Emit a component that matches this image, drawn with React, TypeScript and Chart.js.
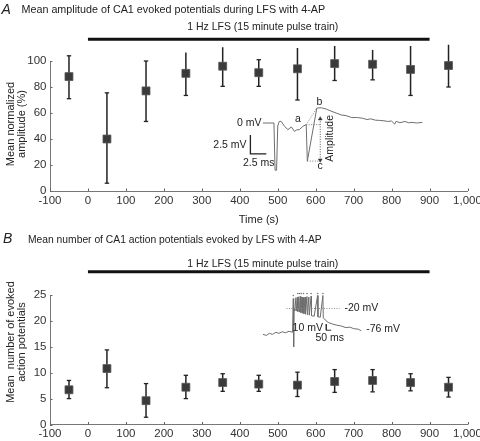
import React, { useEffect, useRef } from "react";
import { Chart, registerables } from "chart.js";
Chart.register(...registerables);

const FONT = '"Liberation Sans", Arial, Helvetica, sans-serif';
const TEXT = "#222";
const TRACE = "#6e6e6e";

// ---- shared x axis ----
const times = [-50, 50, 153, 258, 355, 450, 552, 650, 750, 850, 950];
const xMin = -100;
const xMax = 1000;
const xStep = 100;
const lfsStart = 0;
const lfsEnd = 900;
const lfsLabel = "1 Hz LFS (15 minute pulse train)";

// ---- panel A ----
const letterA = "A";
const titleA = "Mean amplitude of CA1 evoked potentials during LFS with 4-AP";
const yTitleA = ["Mean normalized", "amplitude (%)"];
const xTitleA = "Time (s)";
const yMaxA = 100;
const yStepA = 20;
const meanA = [88, 40, 77, 90.5, 96, 91, 94, 98, 97.5, 93.5, 96.5];
const lowA = [71, 6, 53.5, 73.5, 80.5, 80.5, 70, 85, 85.5, 73.5, 80];
const highA = [104, 75.5, 100, 106.5, 110.5, 101, 110, 111.5, 108.5, 111.5, 112.5];

// inset trace A (drawn in the chart's own units)
const traceAX = [461, 490, 493, 497, 500, 504, 509, 518, 527, 536, 544, 550, 557, 566, 575, 578, 603, 615, 628, 640, 654, 667, 680, 695, 710, 723, 735, 745, 757, 768, 780, 790, 800, 808, 812, 822, 835, 845, 854, 866, 881];
const traceAY = [52.3, 52.3, 16, 16, 50, 53.5, 53.6, 49.7, 47.2, 49.3, 45.9, 47, 47.2, 49.7, 51, 23, 63.8, 64, 63, 61.5, 60, 58.5, 58, 56.5, 56.5, 56, 55, 55.5, 54.5, 54.3, 54, 53.5, 53.8, 51.5, 53.6, 52.5, 53.5, 52.5, 52.8, 52.3, 52.8];
const dotAB = [[575, 51], [603, 63.8]];
const dotA = [[575, 51], [612, 51]];
const dotC = [[578, 23], [612, 23]];
const ampLine = [[612, 55.5], [612, 23.8]];
const scaleBarA = [[428, 43], [428, 28.5], [470, 28.5]];
const labelsA = [
  { text: "0 mV", x: 457, y: 52, align: "right" },
  { text: "a", x: 553, y: 55, align: "center" },
  { text: "b", x: 610, y: 68, align: "center" },
  { text: "c", x: 612, y: 19, align: "center" },
  { text: "2.5 mV", x: 418, y: 35, align: "right" },
  { text: "2.5 ms", x: 450, y: 21.5, align: "center" },
  { text: "Amplitude", x: 638, y: 40.5, align: "center", rotate: true },
];

// ---- panel B ----
const letterB = "B";
const titleB = "Mean number of CA1 action potentials evoked by LFS with 4-AP";
const yTitleB = ["Mean  number of evoked", "action potentials"];
const yMaxB = 25;
const yStepB = 5;
const meanB = [6.7, 10.8, 4.6, 7.2, 8.1, 7.8, 7.6, 8.3, 8.5, 8.1, 7.2];
const lowB = [5.0, 7.1, 1.4, 5.0, 6.4, 6.4, 5.4, 6.2, 6.3, 6.5, 5.3];
const highB = [8.5, 14.4, 7.9, 9.5, 9.8, 9.5, 10.1, 10.6, 10.6, 9.8, 9.1];

const traceBX = [461, 470, 478, 486, 495, 503, 512, 520, 530, 539, 541, 542, 543, 545, 548, 549, 552, 553, 556, 557, 560, 561, 564, 565, 568, 569, 572, 573, 577, 578, 582, 583, 588, 589, 596, 605, 606, 612, 619, 620, 625, 633, 644, 654, 668, 680, 690, 700, 712, 720];
const traceBY = [17.4, 17.2, 17.6, 17.4, 17.8, 17.6, 17.9, 17.7, 18.0, 17.8, 24.3, 15.0, 22.3, 22, 24.5, 21.9, 24.6, 21.8, 24.7, 21.7, 24.7, 21.6, 24.6, 21.5, 24.5, 21.4, 24.6, 21.3, 24.7, 21.2, 24.6, 21.1, 24.8, 21.0, 20.9, 24.9, 20.8, 20.7, 24.9, 20.6, 20.2, 19.7, 19.4, 19.2, 19.0, 18.7, 18.8, 18.5, 18.4, 18.1];
const spikeDotX = [541, 553, 557, 562, 568, 577, 588, 605, 619];
const spikeDotY = [24.9, 25.3, 25.3, 25.3, 25.3, 25.3, 25.3, 25.3, 25.3];
const dotB = [[523, 22.4], [663, 22.4]];
const scaleBarB = [[628, 19.4], [628, 18.2], [641, 18.2]];
const labelsB = [
  { text: "-20 mV", x: 676, y: 22.4, align: "left" },
  { text: "-76 mV", x: 733, y: 18.4, align: "left" },
  { text: "10 mV", x: 619, y: 18.6, align: "right" },
  { text: "50 ms", x: 637, y: 16.7, align: "center" },
];

type Pt = { x: number; y: number | null };
const pts = (arr: number[][]): Pt[] => arr.map(([x, y]) => ({ x, y }));
const zip = (xs: number[], ys: number[]): Pt[] => xs.map((x, i) => ({ x, y: ys[i] }));
const errSegs = (ts: number[], lo: number[], hi: number[]): Pt[] =>
  ts.flatMap((t, i) => [{ x: t, y: lo[i] }, { x: t, y: hi[i] }, { x: t, y: null }]);

interface Panel {
  height: number;
  chartTop: number;
  chartBottom: number;
  letter: string;
  letterX: number;
  letterY: number;
  title: string;
  titleSize: number;
  titleX: number;
  titleY: number;
  lfsTextY: number;
  lfsBarY: number;
  yTitle: string[];
  yTitleY: number;
  yTitleX: number[];
  xTitle: string | null;
  yMax: number;
  yStep: number;
  mean: number[];
  low: number[];
  high: number[];
  insetDatasets: any[];
  labels: any[];
}

function buildConfig(p: Panel): any {
  const tickFont = { family: FONT, size: 11.5 };
  const decor = {
    id: "decor",
    afterDraw(chart: any) {
      const ctx = chart.ctx;
      const xs = chart.scales.x;
      const ys = chart.scales.y;
      const area = chart.chartArea;
      ctx.save();
      ctx.fillStyle = TEXT;
      // panel letter
      ctx.font = `italic 14px ${FONT}`;
      ctx.textAlign = "left";
      ctx.textBaseline = "alphabetic";
      ctx.fillText(p.letter, p.letterX, p.letterY);
      // title
      ctx.font = `${p.titleSize}px ${FONT}`;
      ctx.fillText(p.title, p.titleX, p.titleY);
      // LFS bar and label
      const x0 = xs.getPixelForValue(lfsStart);
      const x1 = xs.getPixelForValue(lfsEnd);
      ctx.font = `10.5px ${FONT}`;
      ctx.textAlign = "center";
      ctx.fillText(lfsLabel, (x0 + x1) / 2 + 4, p.lfsTextY);
      ctx.strokeStyle = "#111";
      ctx.lineWidth = 3;
      ctx.beginPath();
      ctx.moveTo(x0, p.lfsBarY);
      ctx.lineTo(x1, p.lfsBarY);
      ctx.stroke();
      // y axis title (two lines, rotated)
      ctx.font = `11px ${FONT}`;
      p.yTitle.forEach((line, i) => {
        ctx.save();
        ctx.translate(p.yTitleX[i], p.yTitleY);
        ctx.rotate(-Math.PI / 2);
        ctx.textAlign = "center";
        ctx.textBaseline = "alphabetic";
        ctx.fillText(line, 0, 0);
        ctx.restore();
      });
      // inward tick marks
      ctx.strokeStyle = "#666";
      ctx.lineWidth = 1;
      ctx.beginPath();
      xs.ticks.forEach((t: any) => {
        const px = Math.round(xs.getPixelForValue(t.value)) + 0.5;
        ctx.moveTo(px, area.bottom);
        ctx.lineTo(px, area.bottom - 2.5);
      });
      ys.ticks.forEach((t: any) => {
        const py = Math.round(ys.getPixelForValue(t.value)) + 0.5;
        ctx.moveTo(area.left, py);
        ctx.lineTo(area.left + 2.5, py);
      });
      ctx.stroke();
      // inset labels
      ctx.font = `10.5px ${FONT}`;
      ctx.fillStyle = TEXT;
      p.labels.forEach((l: any) => {
        const px = xs.getPixelForValue(l.x);
        const py = ys.getPixelForValue(l.y);
        ctx.save();
        ctx.translate(px, py);
        if (l.rotate) ctx.rotate(-Math.PI / 2);
        ctx.textAlign = l.align;
        ctx.textBaseline = "middle";
        ctx.fillText(l.text, 0, 0);
        ctx.restore();
      });
      ctx.restore();
    },
  };

  return {
    type: "scatter",
    data: {
      datasets: [
        {
          type: "scatter",
          data: zip(times, p.mean),
          pointStyle: "rect",
          pointRadius: 5.6,
          backgroundColor: "#3a3a3a",
          borderColor: "#555",
          borderWidth: 0.8,
          clip: false,
        },
        {
          type: "scatter",
          data: [...zip(times, p.low), ...zip(times, p.high)],
          pointStyle: "line",
          pointRadius: 2.2,
          borderColor: "#222",
          borderWidth: 1.3,
          clip: false,
        },
        {
          type: "line",
          data: errSegs(times, p.low, p.high),
          borderColor: "#222",
          borderWidth: 1.5,
          pointRadius: 0,
          spanGaps: false,
          clip: false,
        },
        ...p.insetDatasets,
      ],
    },
    options: {
      animation: false,
      responsive: false,
      events: [],
      layout: { padding: { left: 0, right: 12.5, top: p.chartTop, bottom: 0 } },
      plugins: { legend: { display: false }, tooltip: { enabled: false }, title: { display: false } },
      scales: {
        x: {
          type: "linear",
          min: xMin,
          max: xMax,
          ticks: {
            stepSize: xStep,
            font: tickFont,
            color: "#333",
            padding: 2.5,
            maxRotation: 0,
            autoSkip: false,
          },
          grid: { display: false, drawTicks: false, tickLength: 0 },
          border: { display: true, color: "#777", width: 1 },
          title: p.xTitle
            ? { display: true, text: p.xTitle, font: { family: FONT, size: 11 }, color: TEXT, padding: { top: 0, bottom: 3.9 } }
            : { display: false },
          afterFit(s: any) {
            s.height = p.height - p.chartBottom;
            s.paddingLeft = 0;
            s.paddingRight = 0;
          },
        },
        y: {
          type: "linear",
          min: 0,
          max: p.yMax,
          ticks: { stepSize: p.yStep, font: tickFont, color: "#333", padding: 3.5 },
          grid: { display: false, drawTicks: false, tickLength: 0 },
          border: { display: true, color: "#777", width: 1 },
          afterFit(s: any) {
            s.width = 50;
            s.paddingTop = 0;
            s.paddingBottom = 0;
          },
        },
      },
    },
    plugins: [decor],
  };
}

const lineDs = (data: Pt[], color: string, width: number, dash: number[] = []) => ({
  type: "line",
  data,
  borderColor: color,
  borderWidth: width,
  borderDash: dash,
  pointRadius: 0,
  clip: false,
  tension: 0,
});

const panelA: Panel = {
  height: 230,
  chartTop: 61,
  chartBottom: 191,
  letter: letterA,
  letterX: 1.5,
  letterY: 13.5,
  title: titleA,
  titleSize: 10.75,
  titleX: 21.5,
  titleY: 12.5,
  lfsTextY: 30,
  lfsBarY: 39.2,
  yTitle: yTitleA,
  yTitleY: 124,
  yTitleX: [14, 25],
  xTitle: xTitleA,
  yMax: yMaxA,
  yStep: yStepA,
  mean: meanA,
  low: lowA,
  high: highA,
  insetDatasets: [
    {
      type: "scatter",
      data: [{ x: ampLine[0][0], y: ampLine[0][1] }],
      pointStyle: "triangle",
      pointRadius: 2.2,
      backgroundColor: "#333",
      borderColor: "#333",
      borderWidth: 0.5,
      clip: false,
    },
    {
      type: "scatter",
      data: [{ x: ampLine[1][0], y: ampLine[1][1] }],
      pointStyle: "triangle",
      rotation: 180,
      pointRadius: 2.2,
      backgroundColor: "#333",
      borderColor: "#333",
      borderWidth: 0.5,
      clip: false,
    },
    lineDs(pts(ampLine), "#555", 1, [1, 1.5]),
    lineDs(pts(dotAB), "#777", 1, [1, 1.5]),
    lineDs(pts(dotA), "#777", 1, [1, 1.5]),
    lineDs(pts(dotC), "#777", 1, [1, 1.5]),
    lineDs(pts(scaleBarA), "#222", 1.3),
    lineDs(zip(traceAX, traceAY), TRACE, 1),
  ],
  labels: labelsA,
};

const panelB: Panel = {
  height: 219,
  chartTop: 73,
  chartBottom: 202.5,
  letter: letterB,
  letterX: 3,
  letterY: 21.3,
  title: titleB,
  titleSize: 10.3,
  titleX: 28,
  titleY: 20.5,
  lfsTextY: 44.5,
  lfsBarY: 49.7,
  yTitle: yTitleB,
  yTitleY: 120,
  yTitleX: [13.5, 25],
  xTitle: null,
  yMax: yMaxB,
  yStep: yStepB,
  mean: meanB,
  low: lowB,
  high: highB,
  insetDatasets: [
    {
      type: "scatter",
      data: zip(spikeDotX, spikeDotY),
      pointStyle: "circle",
      pointRadius: 0.8,
      backgroundColor: "#777",
      borderWidth: 0,
      clip: false,
    },
    lineDs(pts(dotB), "#888", 1, [1, 1.5]),
    lineDs(pts(scaleBarB), "#333", 1),
    lineDs(zip(traceBX, traceBY), TRACE, 1),
  ],
  labels: labelsB,
};

function PanelChart({ panel, top }: { panel: Panel; top: number }) {
  const ref = useRef<HTMLCanvasElement | null>(null);
  useEffect(() => {
    if (!ref.current) return;
    const chart = new Chart(ref.current, buildConfig(panel));
    return () => chart.destroy();
  }, [panel]);
  return (
    <canvas
      ref={ref}
      width={480}
      height={panel.height}
      style={{ position: "absolute", left: 0, top, width: 480, height: panel.height }}
    />
  );
}

export default function App() {
  return (
    <div style={{ position: "absolute", left: 0, top: 0, width: 480, height: 441, background: "#fff" }}>
      <PanelChart panel={panelA} top={0} />
      <PanelChart panel={panelB} top={222} />
    </div>
  );
}
